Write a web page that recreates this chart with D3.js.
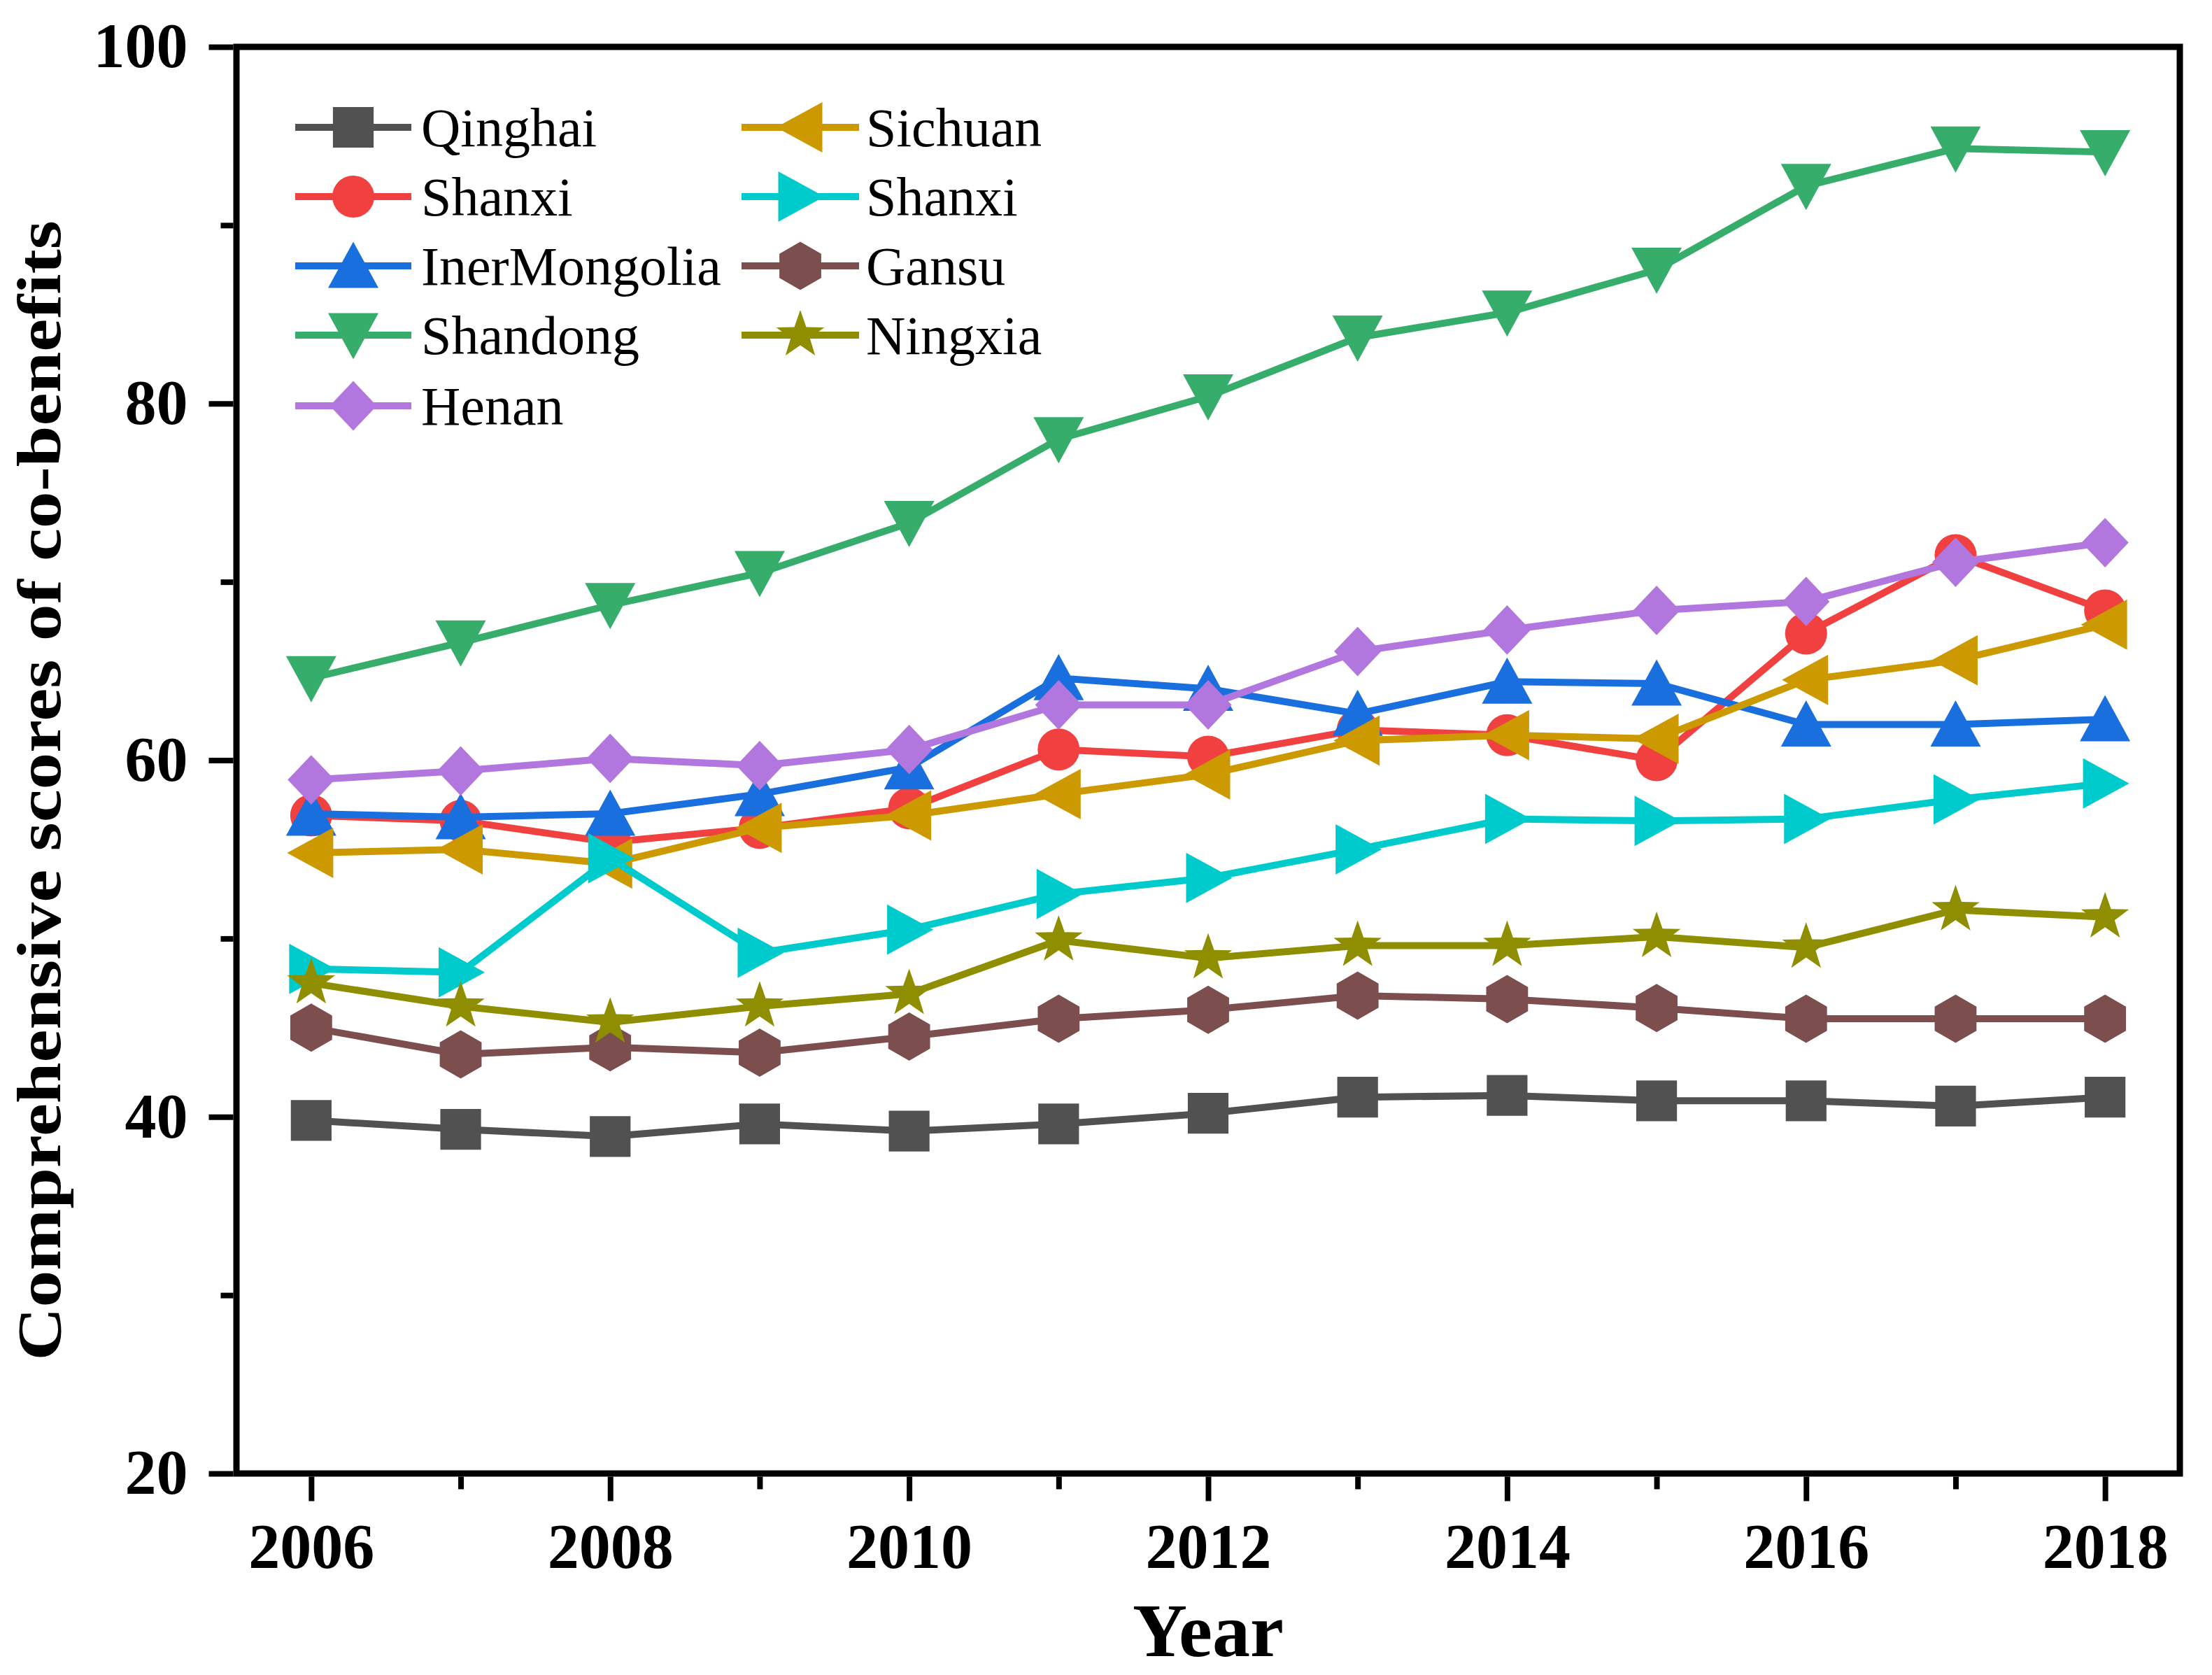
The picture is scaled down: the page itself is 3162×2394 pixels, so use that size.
<!DOCTYPE html>
<html>
<head>
<meta charset="utf-8">
<script src="https://cdn.jsdelivr.net/npm/d3@7"></script>
<style>
  body { margin: 0; background: #fff; }
</style>
</head>
<body>
<div id="chart"></div>
<script>
// Data
var years = [2006, 2007, 2008, 2009, 2010, 2011, 2012, 2013, 2014, 2015, 2016, 2017, 2018];
var yTicks = [20, 40, 60, 80, 100];
var xTicks = [2006, 2008, 2010, 2012, 2014, 2016, 2018];

var qinghai      = [39.8, 39.3, 38.9, 39.6, 39.2, 39.6, 40.2, 41.1, 41.2, 40.9, 40.9, 40.6, 41.1];
var shanxi       = [56.9, 56.6, 55.4, 56.2, 57.3, 60.6, 60.2, 61.7, 61.4, 60.0, 67.1, 71.5, 68.4];
var innerMongolia= [57.0, 56.8, 57.0, 58.1, 59.6, 64.6, 64.0, 62.6, 64.4, 64.3, 62.0, 62.0, 62.3];
var shandong     = [64.6, 66.6, 68.7, 70.5, 73.3, 78.0, 80.4, 83.7, 85.1, 87.5, 92.2, 94.3, 94.1];
var henan        = [58.9, 59.4, 60.1, 59.7, 60.6, 63.1, 63.1, 66.1, 67.3, 68.4, 68.9, 71.1, 72.2];
var sichuan      = [54.8, 55.0, 54.2, 56.2, 56.9, 58.1, 59.2, 61.1, 61.4, 61.2, 64.5, 65.6, 67.6];
var shaanxi      = [48.3, 48.1, 54.5, 49.2, 50.5, 52.5, 53.4, 55.0, 56.7, 56.6, 56.7, 57.8, 58.7];
var gansu        = [45.0, 43.5, 43.9, 43.6, 44.5, 45.5, 46.0, 46.8, 46.6, 46.1, 45.5, 45.5, 45.5];
var ningxia      = [47.5, 46.2, 45.3, 46.2, 46.9, 49.9, 48.9, 49.6, 49.6, 50.1, 49.5, 51.6, 51.2];

var series = [
  {name: "Qinghai",      values: qinghai,       color: "#515151", shape: "square"},
  {name: "Shanxi",       values: shanxi,        color: "#F14040", shape: "circle"},
  {name: "InerMongolia", values: innerMongolia, color: "#1A6FDF", shape: "up"},
  {name: "Shandong",     values: shandong,      color: "#37AD6B", shape: "down"},
  {name: "Henan",        values: henan,         color: "#B177DE", shape: "diamond"},
  {name: "Sichuan",      values: sichuan,       color: "#CC9900", shape: "left"},
  {name: "Shanxi",       values: shaanxi,       color: "#00CBCC", shape: "right"},
  {name: "Gansu",        values: gansu,         color: "#7D4E4E", shape: "hexagon"},
  {name: "Ningxia",      values: ningxia,       color: "#8E8E00", shape: "star"}
];

var W = 3162, H = 2394;
var plot = {left: 338, right: 3116, top: 67, bottom: 2106};
var FONT = "'Liberation Serif', 'Times New Roman', serif";

var svg = d3.select("#chart").append("svg")
  .attr("width", W).attr("height", H)
  .style("font-family", FONT);

var x = d3.scaleLinear().domain([2005.5, 2018.5]).range([plot.left, plot.right]);
var y = d3.scaleLinear().domain([20, 100]).range([plot.bottom, plot.top]);

// marker shapes, r is the half size
function markerPath(shape, r) {
  var p;
  switch (shape) {
    case "square":
      var s = r * 0.97;
      return "M" + (-s) + "," + (-s) + "H" + s + "V" + s + "H" + (-s) + "Z";
    case "circle":
      return "M" + r + ",0A" + r + "," + r + " 0 1,1 " + (-r) + ",0A" + r + "," + r + " 0 1,1 " + r + ",0Z";
    case "up":
      p = [[0, -1.15 * r], [1.2 * r, 1.05 * r], [-1.2 * r, 1.05 * r]]; break;
    case "down":
      p = [[0, 1.15 * r], [1.2 * r, -1.05 * r], [-1.2 * r, -1.05 * r]]; break;
    case "left":
      p = [[-1.15 * r, 0], [1.05 * r, -1.2 * r], [1.05 * r, 1.2 * r]]; break;
    case "right":
      p = [[1.15 * r, 0], [-1.05 * r, -1.2 * r], [-1.05 * r, 1.2 * r]]; break;
    case "diamond":
      p = [[0, -1.18 * r], [1.12 * r, 0], [0, 1.18 * r], [-1.12 * r, 0]]; break;
    case "hexagon":
      p = d3.range(6).map(function(k) {
        var a = Math.PI / 2 + k * Math.PI / 3, R = 1.15 * r;
        return [R * Math.cos(a), R * Math.sin(a)];
      });
      break;
    case "star":
      p = d3.range(10).map(function(k) {
        var a = -Math.PI / 2 + k * Math.PI / 5, R = (k % 2 === 0) ? 1.2 * r : 0.48 * r;
        return [R * Math.cos(a), R * Math.sin(a)];
      });
      break;
  }
  return "M" + p.map(function(q) { return q[0].toFixed(1) + "," + q[1].toFixed(1); }).join("L") + "Z";
}

var R = 30, LINE_W = 10;

// series: line then markers, later series on top
var line = d3.line()
  .x(function(d, i) { return x(years[i]); })
  .y(function(d) { return y(d); });

series.forEach(function(s) {
  var g = svg.append("g").attr("class", "series");
  g.append("path")
    .attr("d", line(s.values))
    .attr("fill", "none")
    .attr("stroke", s.color)
    .attr("stroke-width", LINE_W)
    .attr("stroke-linejoin", "miter");
  g.selectAll(".pt").data(s.values).enter()
    .append("path")
    .attr("class", "pt")
    .attr("transform", function(d, i) { return "translate(" + x(years[i]) + "," + y(d) + ")"; })
    .attr("d", markerPath(s.shape, R))
    .attr("fill", s.color);
});

// axes
var AX_W = 9;
var axisG = svg.append("g").attr("class", "axes");

var xMajor = d3.axisBottom(x).tickValues(xTicks).tickFormat(d3.format("d")).tickSize(35).tickPadding(10);
var xMinor = d3.axisBottom(x).tickValues(d3.range(2007, 2018, 2)).tickFormat("").tickSize(18);
var yMajor = d3.axisLeft(y).tickValues(yTicks).tickSize(35).tickPadding(30);
var yMinor = d3.axisLeft(y).tickValues([30, 50, 70, 90]).tickFormat("").tickSize(18);

function styleAxis(g) {
  g.attr("font-family", null);
  g.select(".domain").remove();
  g.selectAll(".tick line").attr("stroke", "#000").attr("stroke-width", 8);
  g.selectAll(".tick text")
    .attr("fill", "#000")
    .style("font-family", FONT)
    .style("font-size", "90px")
    .style("font-weight", "bold");
}

axisG.append("g").attr("transform", "translate(0," + (plot.bottom + AX_W / 2) + ")").call(xMinor).call(styleAxis);
axisG.append("g").attr("transform", "translate(0," + (plot.bottom + AX_W / 2) + ")").call(xMajor).call(styleAxis)
  .selectAll(".tick text").attr("dy", "0.95em");
axisG.append("g").attr("transform", "translate(" + (plot.left - AX_W / 2) + ",0)").call(yMinor).call(styleAxis);
axisG.append("g").attr("transform", "translate(" + (plot.left - AX_W / 2) + ",0)").call(yMajor).call(styleAxis);

// frame
axisG.append("rect")
  .attr("x", plot.left).attr("y", plot.top)
  .attr("width", plot.right - plot.left).attr("height", plot.bottom - plot.top)
  .attr("fill", "none").attr("stroke", "#000").attr("stroke-width", AX_W);

// axis titles
svg.append("text")
  .attr("x", (plot.left + plot.right) / 2).attr("y", 2367)
  .attr("text-anchor", "middle")
  .style("font-family", FONT)
  .style("font-size", "108px").style("font-weight", "bold")
  .text("Year");

svg.append("text")
  .attr("transform", "translate(86,1130) rotate(-90) scale(1.2,1)")
  .attr("text-anchor", "middle")
  .style("font-family", FONT)
  .style("font-size", "88px").style("font-weight", "bold")
  .text("Comprehensive scores of co-benefits");

// legend, column major
var legend = svg.append("g").attr("class", "legend");
var rowY = [182, 281, 380, 479, 580];
var cols = [{x0: 422, x1: 588, tx: 602}, {x0: 1060, x1: 1228, tx: 1238}];

series.forEach(function(s, i) {
  var c = cols[Math.floor(i / 5)], yy = rowY[i % 5];
  var lg = legend.append("g");
  lg.append("line")
    .attr("x1", c.x0).attr("x2", c.x1).attr("y1", yy).attr("y2", yy)
    .attr("stroke", s.color).attr("stroke-width", LINE_W);
  lg.append("path")
    .attr("transform", "translate(" + ((c.x0 + c.x1) / 2) + "," + yy + ")")
    .attr("d", markerPath(s.shape, R))
    .attr("fill", s.color);
  lg.append("text")
    .attr("x", c.tx).attr("y", yy + 27)
    .style("font-family", FONT)
    .style("font-size", "78px")
    .text(s.name);
});
</script>
</body>
</html>
